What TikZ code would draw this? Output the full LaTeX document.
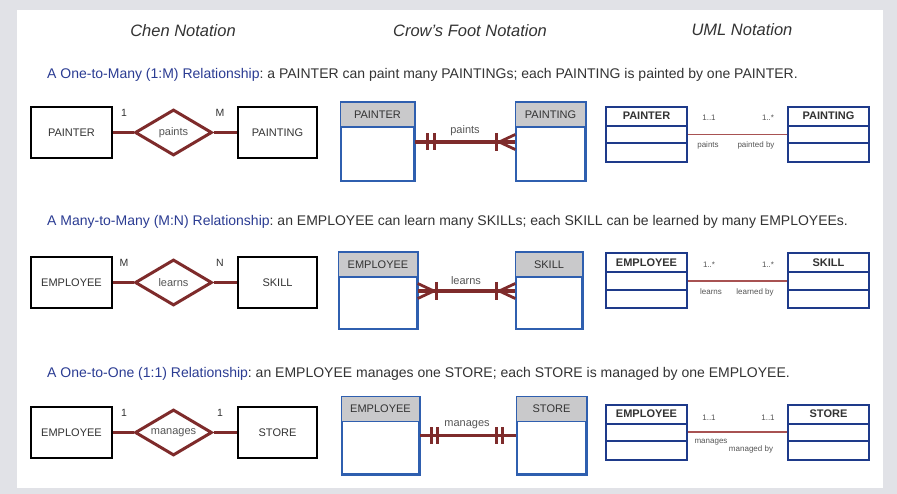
\documentclass[tikz,border=0pt]{standalone}
\usepackage{fontspec}
\setmainfont{Liberation Sans}
\usetikzlibrary{shapes.geometric,calc}
\definecolor{bgray}{HTML}{E1E2E7}
\definecolor{rel}{HTML}{7E2B2B}
\definecolor{cblue}{HTML}{2F5FAF}
\definecolor{hgray}{HTML}{C9C9CB}
\definecolor{unavy}{HTML}{1E3A8A}
\definecolor{uline}{HTML}{A85252}
\definecolor{txt}{HTML}{333333}
\definecolor{ltxt}{HTML}{555555}
\definecolor{capblue}{HTML}{2B3C93}
\frenchspacing
\tikzset{
  fs/.style={font=\fontsize{#1}{#1}\selectfont},
  hdr/.style={text=txt, font=\fontsize{16.5}{18}\selectfont\itshape},
  captxt/.style={anchor=west, inner sep=0, text=txt, fs=14},
  chen/.style={draw=black, line width=1.3pt, minimum width=81pt, minimum height=51pt, inner sep=0, fs=11, text=txt},
  reldia/.style={diamond, draw=rel, line width=3pt, minimum width=77pt, minimum height=46pt, aspect=1.67, inner sep=0, fs=11, text=ltxt},
  relline/.style={draw=rel, line width=3pt},
  card/.style={fs=10.5, text=txt, inner sep=0},
  crowbox/.style={draw=cblue, line width=1.5pt, minimum width=#1, minimum height=77pt, inner sep=0},
  crowhead/.style={fs=11, text=txt, inner sep=0},
  crowline/.style={draw=rel, line width=3.5pt},
  crowbar/.style={draw=rel, line width=3.2pt},
  crowfoot/.style={draw=rel, line width=2.8pt},
  crowlbl/.style={fs=11, text=ltxt, inner sep=0},
  umlbox/.style={draw=unavy, line width=2pt, minimum width=81pt, minimum height=55pt, inner sep=0},
  umldiv/.style={draw=unavy, line width=2pt},
  umlname/.style={text=txt, font=\fontsize{11}{12}\selectfont\bfseries, inner sep=0},
  umlline/.style={draw=uline, line width=1.8pt},
  umllbl/.style={fs=8, text=ltxt, inner sep=0},
}
\begin{document}
\begin{tikzpicture}[x=1pt,y=-1pt]
\fill[bgray] (0,0) rectangle (897,494);
\fill[white] (17,10) rectangle (883,488);
\useasboundingbox (0,0) rectangle (897,494);

% headers
\node[hdr] (h1) at (183,31) {Chen Notation};
\node[hdr] (h2) at (470,31) {Crow’s Foot Notation};
\node[hdr] (h3) at (742,30) {UML Notation};

% captions
\node[captxt] (c1) at (47,75) {{\color{capblue}A One-to-Many (1:M) Relationship}: a PAINTER can paint many PAINTINGs; each PAINTING is painted by one PAINTER.};
\node[captxt] (c2) at (47,222) {{\color{capblue}A Many-to-Many (M:N) Relationship}: an EMPLOYEE can learn many SKILLs; each SKILL can be learned by many EMPLOYEEs.};
\node[captxt] (c3) at (47,374) {{\color{capblue}A One-to-One (1:1) Relationship}: an EMPLOYEE manages one STORE; each STORE is managed by one EMPLOYEE.};

% ---------- Chen ----------
\foreach \r/\cy/\a/\rl/\b/\ca/\cb in {1/132.5/PAINTER/paints/PAINTING/1/M, 2/282.5/EMPLOYEE/learns/SKILL/M/N, 3/432.5/EMPLOYEE/manages/STORE/1/1}{
  \node[chen] (ea\r) at (71.5,\cy) {\a};
  \node[chen, minimum width=79pt] (eb\r) at (277.5,\cy) {\b};
  \node[reldia] (rd\r) at (173.5,\cy) {\rl};
  \draw[relline] (ea\r.east) -- (rd\r.west);
  \draw[relline] (rd\r.east) -- (eb\r.west);
  \node[card] (ka\r) at (124,\cy-20) {\ca};
  \node[card] (kb\r) at (220,\cy-20) {\cb};
}

% ---------- Crow's foot ----------
\node[crowbox=73pt, minimum height=78pt] (cp1) at (377.5,142) {};
\node[crowbox=69pt, minimum height=78pt] (cq1) at (550.5,142) {};
\node[crowbox=78pt, minimum height=76pt] (cp2) at (378,291) {};
\node[crowbox=66pt, minimum height=76pt] (cq2) at (549,291) {};
\node[crowbox=77pt, minimum height=77pt] (cp3) at (380.5,435.5) {};
\node[crowbox=69pt, minimum height=77pt] (cq3) at (551.5,435.5) {};
\foreach \n/\t in {cp1/PAINTER, cq1/PAINTING, cp2/EMPLOYEE, cq2/SKILL, cp3/EMPLOYEE, cq3/STORE}{
  \fill[hgray] (\n.north west) rectangle ($(\n.north east)+(0,25)$);
  \draw[cblue, line width=1.5pt] ($(\n.north west)+(0,25)$) -- ($(\n.north east)+(0,25)$);
  \draw[cblue, line width=1.5pt] (\n.north west) rectangle (\n.south east);
  \node[crowhead] (\n t) at ($(\n.north)+(0,12.5)$) {\t};
}
\foreach \r in {1,2,3}{
  \draw[crowline] (cp\r.east) -- (cq\r.west);
}
\draw[crowbar] ($(cp1.east)+(13,-8.5)$) -- ++(0,17);
\draw[crowbar] ($(cp1.east)+(19.5,-8.5)$) -- ++(0,17);
\draw[crowbar] ($(cq1.west)+(-19,-9)$) -- ++(0,18);
\draw[crowfoot] ($(cq1.west)+(0,-7.5)$) -- ($(cq1.west)+(-16,0)$) -- ($(cq1.west)+(0,7.5)$);
\draw[crowfoot] ($(cp2.east)+(0,-7.5)$) -- ($(cp2.east)+(16,0)$) -- ($(cp2.east)+(0,7.5)$);
\draw[crowbar] ($(cp2.east)+(19,-9)$) -- ++(0,18);
\draw[crowbar] ($(cq2.west)+(-19,-9)$) -- ++(0,18);
\draw[crowfoot] ($(cq2.west)+(0,-7.5)$) -- ($(cq2.west)+(-16,0)$) -- ($(cq2.west)+(0,7.5)$);
\draw[crowbar] ($(cp3.east)+(11.5,-8.5)$) -- ++(0,17);
\draw[crowbar] ($(cp3.east)+(18,-8.5)$) -- ++(0,17);
\draw[crowbar] ($(cq3.west)+(-20,-8.5)$) -- ++(0,17);
\draw[crowbar] ($(cq3.west)+(-13.5,-8.5)$) -- ++(0,17);
\node[crowlbl] (cl1) at (465,131) {paints};
\node[crowlbl] (cl2) at (466,281) {learns};
\node[crowlbl] (cl3) at (467,425) {manages};

% ---------- UML ----------
\foreach \r/\cy/\a/\b in {1/134.5/PAINTER/PAINTING, 2/281/EMPLOYEE/SKILL, 3/432/EMPLOYEE/STORE}{
  \node[umlbox] (ua\r) at (646.5,\cy) {};
  \node[umlbox] (ub\r) at (828.5,\cy) {};
  \foreach \n/\t in {ua\r/\a, ub\r/\b}{
    \draw[umldiv] ($(\n.north west)+(0,20)$) -- ($(\n.north east)+(0,20)$);
    \draw[umldiv] ($(\n.north west)+(0,37.5)$) -- ($(\n.north east)+(0,37.5)$);
    \node[umlname] (\n t) at ($(\n.north)+(0,10)$) {\t};
  }
  \draw[umlline] (ua\r.east) -- (ub\r.west);
}
\node[umllbl] (m1a) at (709,118) {1..1};
\node[umllbl] (m1b) at (768,118) {1..*};
\node[umllbl] (l1a) at (708,145) {paints};
\node[umllbl] (l1b) at (756,145) {painted by};
\node[umllbl] (m2a) at (709,264.5) {1..*};
\node[umllbl] (m2b) at (768,264.5) {1..*};
\node[umllbl] (l2a) at (711,292) {learns};
\node[umllbl] (l2b) at (755,292) {learned by};
\node[umllbl] (m3a) at (709,418) {1..1};
\node[umllbl] (m3b) at (768,418) {1..1};
\node[umllbl] (l3a) at (711,442) {manages};
\node[umllbl] (l3b) at (751,449) {managed by};
\end{tikzpicture}
\end{document}
